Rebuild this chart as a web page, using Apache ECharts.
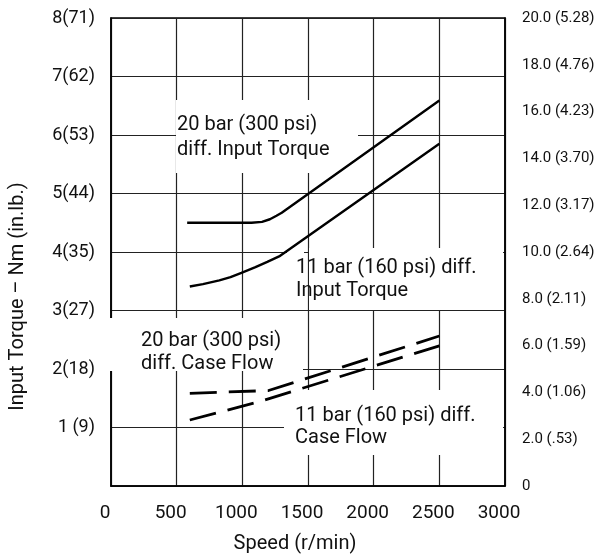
<!DOCTYPE html>
<html>
<head>
<meta charset="utf-8">
<script src="https://cdn.jsdelivr.net/npm/echarts@6/dist/echarts.min.js"></script>
<style>
html,body{margin:0;padding:0;background:#fff;}
#chart{width:604px;height:559px;}
</style>
</head>
<body>
<div id="chart"></div>
<script>
// ---- data ----
var xTickLabels = ["0", "500", "1000", "1500", "2000", "2500", "3000"];
var leftTickLabels = ["", "1 (9)", "2(18)", "3(27)", "4(35)", "5(44)", "6(53)", "7(62)", "8(71)"];
var rightTickLabels = ["0", "2.0 (.53)", "4.0 (1.06)", "6.0 (1.59)", "8.0 (2.11)", "10.0 (2.64)",
  "12.0 (3.17)", "14.0 (3.70)", "16.0 (4.23)", "18.0 (4.76)", "20.0 (5.28)"];

// Input torque, Nm (left axis)
var torque20Speed = [580, 1070, 1150, 1210, 1260, 1300, 2500];
var torque20Value = [4.50, 4.50, 4.515, 4.56, 4.62, 4.67, 6.59];
var torque11Speed = [600, 700, 825, 910, 993, 1100, 1190, 1280, 2500];
var torque11Value = [3.41, 3.45, 3.515, 3.57, 3.643, 3.74, 3.83, 3.924, 5.85];
// Case flow, L/min (right axis)
var flow20Speed = [600, 1200, 2500];
var flow20Value = [3.96, 4.08, 6.41];
var flow11Speed = [600, 1120, 2500];
var flow11Value = [2.82, 3.59, 5.99];

var xAxisName = "Speed (r/min)";
var yAxisName = "Input Torque \u2013 Nm (in.lb.)";
var notes = [
  "20 bar (300 psi)\ndiff. Input Torque",
  "11 bar (160 psi) diff.\nInput Torque",
  "20 bar (300 psi)\ndiff. Case Flow",
  "11 bar (160 psi) diff.\nCase Flow"
];

function pairs(xs, ys) { return xs.map(function (x, i) { return [x, ys[i]]; }); }

var FONT = 'Roboto, "Liberation Sans", sans-serif';
var chart = echarts.init(document.getElementById('chart'), null, {renderer: 'canvas'});

function whiteRect(x, y, w, h) {
  return {type: 'rect', z: 1, silent: true, shape: {x: x, y: y, width: w, height: h},
    style: {fill: '#fff'}};
}
function note(txt, x, y, lh) {
  return {type: 'text', z: 100, silent: true, x: x, y: y,
    style: {text: txt, fill: '#111', fontSize: 20, fontFamily: FONT, lineHeight: lh,
      verticalAlign: 'top', align: 'left'}};
}

var option = {
  animation: false,
  backgroundColor: '#fff',
  grid: {left: 108, right: 99, top: 18, bottom: 66, show: true, borderColor: '#000',
    borderWidth: 1.5, backgroundColor: 'transparent'},
  xAxis: {
    type: 'value', min: 0, max: 3000, interval: 500,
    name: xAxisName, nameLocation: 'middle', nameGap: 48,
    nameTextStyle: {fontSize: 20, fontFamily: FONT, color: '#111', padding: [0, 26, 0, 0]},
    axisLine: {show: true, lineStyle: {color: '#000', width: 1.5}},
    axisTick: {show: false},
    splitLine: {show: true, lineStyle: {color: '#222', width: 1.2}},
    axisLabel: {fontSize: 19, fontFamily: FONT, color: '#111', margin: 18, padding: [0, 12, 0, 0],
      showMinLabel: true, showMaxLabel: true,
      formatter: function (v) { return xTickLabels[Math.round(v / 500)]; }}
  },
  yAxis: [{
    type: 'value', min: 0, max: 8, interval: 1, position: 'left',
    name: yAxisName, nameLocation: 'middle', nameGap: 83, nameRotate: 90,
    nameTextStyle: {fontSize: 20, fontFamily: FONT, color: '#111', padding: [0, 89, 0, 0]},
    axisLine: {show: true, lineStyle: {color: '#000', width: 1.5}},
    axisTick: {show: false},
    splitLine: {show: true, lineStyle: {color: '#222', width: 1.2}},
    axisLabel: {fontSize: 18, fontFamily: FONT, color: '#111', margin: 16,
      showMinLabel: true, showMaxLabel: true,
      formatter: function (v) { return leftTickLabels[Math.round(v)]; }}
  }, {
    type: 'value', min: 0, max: 20, interval: 2, position: 'right',
    axisLine: {show: true, lineStyle: {color: '#000', width: 1.5}},
    axisTick: {show: false},
    splitLine: {show: false},
    axisLabel: {fontSize: 15, fontFamily: FONT, color: '#111', margin: 17,
      showMinLabel: true, showMaxLabel: true,
      formatter: function (v) { return rightTickLabels[Math.round(v / 2)]; }}
  }],
  series: [{
    type: 'line', yAxisIndex: 0, data: pairs(torque20Speed, torque20Value),
    showSymbol: false, smooth: false,
    lineStyle: {color: '#000', width: 2.4}, z: 5
  }, {
    type: 'line', yAxisIndex: 0, data: pairs(torque11Speed, torque11Value),
    showSymbol: false, smooth: false,
    lineStyle: {color: '#000', width: 2.4}, z: 5
  }, {
    type: 'line', yAxisIndex: 1, data: pairs(flow20Speed, flow20Value),
    showSymbol: false,
    lineStyle: {color: '#000', width: 2.8, type: [27, 12], cap: 'butt'}, z: 5
  }, {
    type: 'line', yAxisIndex: 1, data: pairs(flow11Speed, flow11Value),
    showSymbol: false,
    lineStyle: {color: '#000', width: 2.8, type: [27, 12], cap: 'butt'}, z: 5
  }],
  graphic: {elements: [
    whiteRect(176, 100, 182, 73),
    whiteRect(287, 250, 17, 12),
    whiteRect(309, 248, 194, 62),
    whiteRect(110, 318, 193, 53),
    whiteRect(284, 390, 219, 65),
    note(notes[0], 177, 112, 25),
    note(notes[1], 296, 256, 23),
    note(notes[2], 141, 329, 23),
    note(notes[3], 295, 405, 22)
  ]}
};
chart.setOption(option);
</script>
</body>
</html>
